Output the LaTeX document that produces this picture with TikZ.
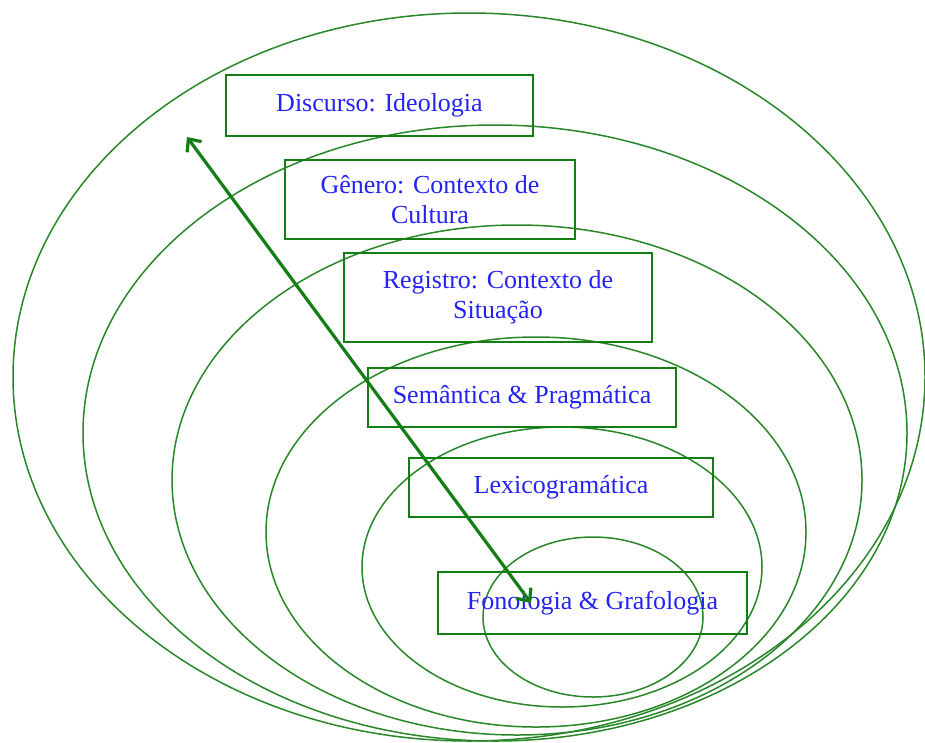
\documentclass[tikz,border=0pt]{standalone}
\usepackage{fontspec}
\setmainfont{Liberation Serif}
\usetikzlibrary{arrows.meta,positioning}
\definecolor{layergreen}{RGB}{40,135,40}
\definecolor{boxgreen}{RGB}{20,125,20}
\definecolor{labelblue}{RGB}{35,35,245}

\begin{document}
\begin{tikzpicture}[x=1pt,y=-1pt]
	\tikzstyle{layer}=[draw=layergreen,line width=1.5pt]
	\tikzstyle{level}=[draw=boxgreen,line width=2.3pt,text=labelblue,align=center,inner sep=0pt,font=\fontsize{26}{30}\selectfont]
	\tikzstyle{link}=[draw=boxgreen,line width=3.2pt,{Straight Barb[length=10pt,width=18pt]}-{Straight Barb[length=10pt,width=18pt]}]

	\useasboundingbox (0,0) rectangle (925,742);

	%% Nested layers
	\draw[layer] (469,377) ellipse (456 and 364);
	\draw[layer] (495,433) ellipse (412 and 308);
	\draw[layer] (517,480) ellipse (345 and 255);
	\draw[layer] (536,532) ellipse (270 and 195);
	\draw[layer] (562,567) ellipse (200 and 140);
	\draw[layer] (593,617) ellipse (110 and 80);

	%% Labels
	\node[level,minimum width=307pt,minimum height=61pt] (discurso) at (379.5,105.5) {Discurso: Ideologia};
	\node[level,minimum width=290pt,minimum height=79pt] (genero) at (430,199.5) {Gênero: Contexto de\\Cultura};
	\node[level,minimum width=308pt,minimum height=89pt] (registro) at (498,297.5) {Registro: Contexto de\\Situação};
	\node[level,minimum width=308pt,minimum height=59pt] (semantica) at (522,397.5) {Semântica \& Pragmática};
	\node[level,minimum width=304pt,minimum height=59pt] (lexico) at (561,487.5) {Lexicogramática};
	\node[level,minimum width=309pt,minimum height=62pt] (fono) at (592.5,603) {Fonologia \& Grafologia};

	%% Realisation arrow
	\coordinate (up) at (187,137);
	\coordinate (down) at (531,603);
	\draw[link] (up) -- (down);

\end{tikzpicture}
\end{document}
